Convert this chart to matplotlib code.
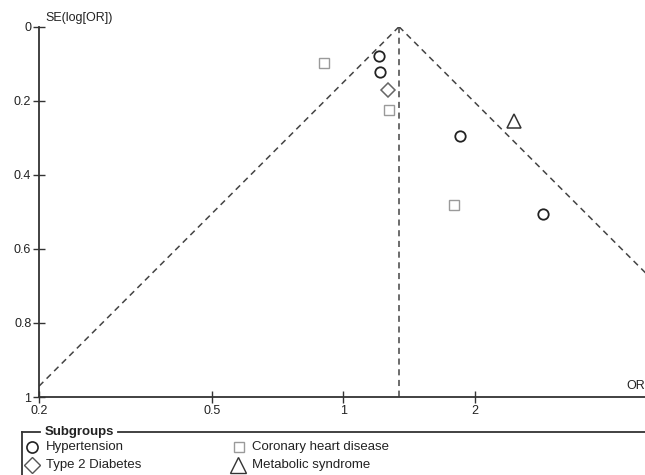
import numpy as np
import matplotlib
matplotlib.use("Agg")
import matplotlib.pyplot as plt
from matplotlib.lines import Line2D

plt.rcParams['font.family'] = ['Liberation Sans', 'DejaVu Sans']

# ---- data ----
hyp_or = [1.208, 1.215, 1.851, 2.867]
hyp_se = [0.079, 0.122, 0.295, 0.506]
t2d_or = [1.262]
t2d_se = [0.172]
chd_or = [0.902, 1.275, 1.791]
chd_se = [0.098, 0.226, 0.482]
met_or = [2.466]
met_se = [0.254]
pooled_or = 1.341

x_ticks = [0.2, 0.5, 1, 2, 5]
x_ticklabels = ["0.2", "0.5", "1", "2", "5"]
y_ticks = [0, 0.2, 0.4, 0.6, 0.8, 1]
y_ticklabels = ["0", "0.2", "0.4", "0.6", "0.8", "1"]

W, H = 645, 475
fig = plt.figure(figsize=(W / 100, H / 100), dpi=100)

def fx(px):
    return px / W

def fy(py):
    return 1 - py / H

ax_left, ax_right, ax_top, ax_bottom = 39, 648, 26.7, 397
ax = fig.add_axes([fx(ax_left), fy(ax_bottom), fx(ax_right - ax_left), (ax_bottom - ax_top) / H])
ax.set_xscale('log')
ax.set_xlim(0.2, 5)
ax.set_ylim(1, 0)
for s in ['top', 'right']:
    ax.spines[s].set_visible(False)
for s in ['left', 'bottom']:
    ax.spines[s].set_linewidth(1.3)
    ax.spines[s].set_color('#333333')
ax.set_xticks(x_ticks)
ax.set_xticklabels(x_ticklabels)
ax.xaxis.set_minor_locator(matplotlib.ticker.NullLocator())
ax.set_yticks(y_ticks)
ax.set_yticklabels(y_ticklabels)
ax.tick_params(direction='inout', length=8, width=1.0, color='#333333',
               labelsize=9, labelcolor='#222222', pad=1.5)
ax.patch.set_alpha(0)

# funnel
se_line = np.array([0.0, 1.0])
lp = np.log(pooled_or)
dash = (0, (4, 3))
ax.plot(np.exp(lp - 1.96 * se_line), se_line, color='#444444', lw=1.1, linestyle=dash, clip_on=True)
ax.plot(np.exp(lp + 1.96 * se_line), se_line, color='#444444', lw=1.1, linestyle=dash, clip_on=True)
ax.plot([pooled_or, pooled_or], [0, 1], color='#444444', lw=1.1, linestyle=dash)

# points
ax.plot(hyp_or, hyp_se, linestyle='none', marker='o', markersize=7.5, mfc='none', mec='#222222', mew=1.3)
ax.plot(t2d_or, t2d_se, linestyle='none', marker='D', markersize=7, mfc='none', mec='#666666', mew=1.1)
ax.plot(chd_or, chd_se, linestyle='none', marker='s', markersize=6.5, mfc='none', mec='#9a9a9a', mew=1.0)
ax.plot(met_or, met_se, linestyle='none', marker='^', markersize=10, mfc='none', mec='#333333', mew=1.1)

# axis titles
fig.text(fx(45), fy(18), "SE(log[OR])", fontsize=9, color='#222222', ha='left', va='center')
fig.text(fx(626), fy(386), "OR", fontsize=9, color='#222222', ha='left', va='center')

# legend box
lc = '#333333'
fig.add_artist(Line2D([fx(21.7), fx(21.7)], [fy(432), fy(480)], transform=fig.transFigure, color=lc, lw=1.3))
fig.add_artist(Line2D([fx(21.7), fx(40)], [fy(432), fy(432)], transform=fig.transFigure, color=lc, lw=1.3))
fig.add_artist(Line2D([fx(118), fx(650)], [fy(432), fy(432)], transform=fig.transFigure, color=lc, lw=1.3))
fig.text(fx(45), fy(432), "Subgroups", fontsize=9.5, fontweight='bold', color='#222222', ha='left', va='center')

entries = [
    (32, 447, 'o', 8, '#222222', 1.2, "Hypertension", 46),
    (32, 465, 'D', 8, '#555555', 1.0, "Type 2 Diabetes", 46),
    (239, 447, 's', 7.5, '#9a9a9a', 1.0, "Coronary heart disease", 252),
    (238, 465, '^', 11.5, '#333333', 1.0, "Metabolic syndrome", 252),
]
for mx, my, mk, ms, mc, mw, label, tx in entries:
    fig.add_artist(Line2D([fx(mx)], [fy(my)], transform=fig.transFigure, marker=mk, markersize=ms,
                          mfc='none', mec=mc, mew=mw, linestyle='none'))
    fig.text(fx(tx), fy(my), label, fontsize=9.5, color='#222222', ha='left', va='center')

fig.savefig("out.png", dpi=100)
